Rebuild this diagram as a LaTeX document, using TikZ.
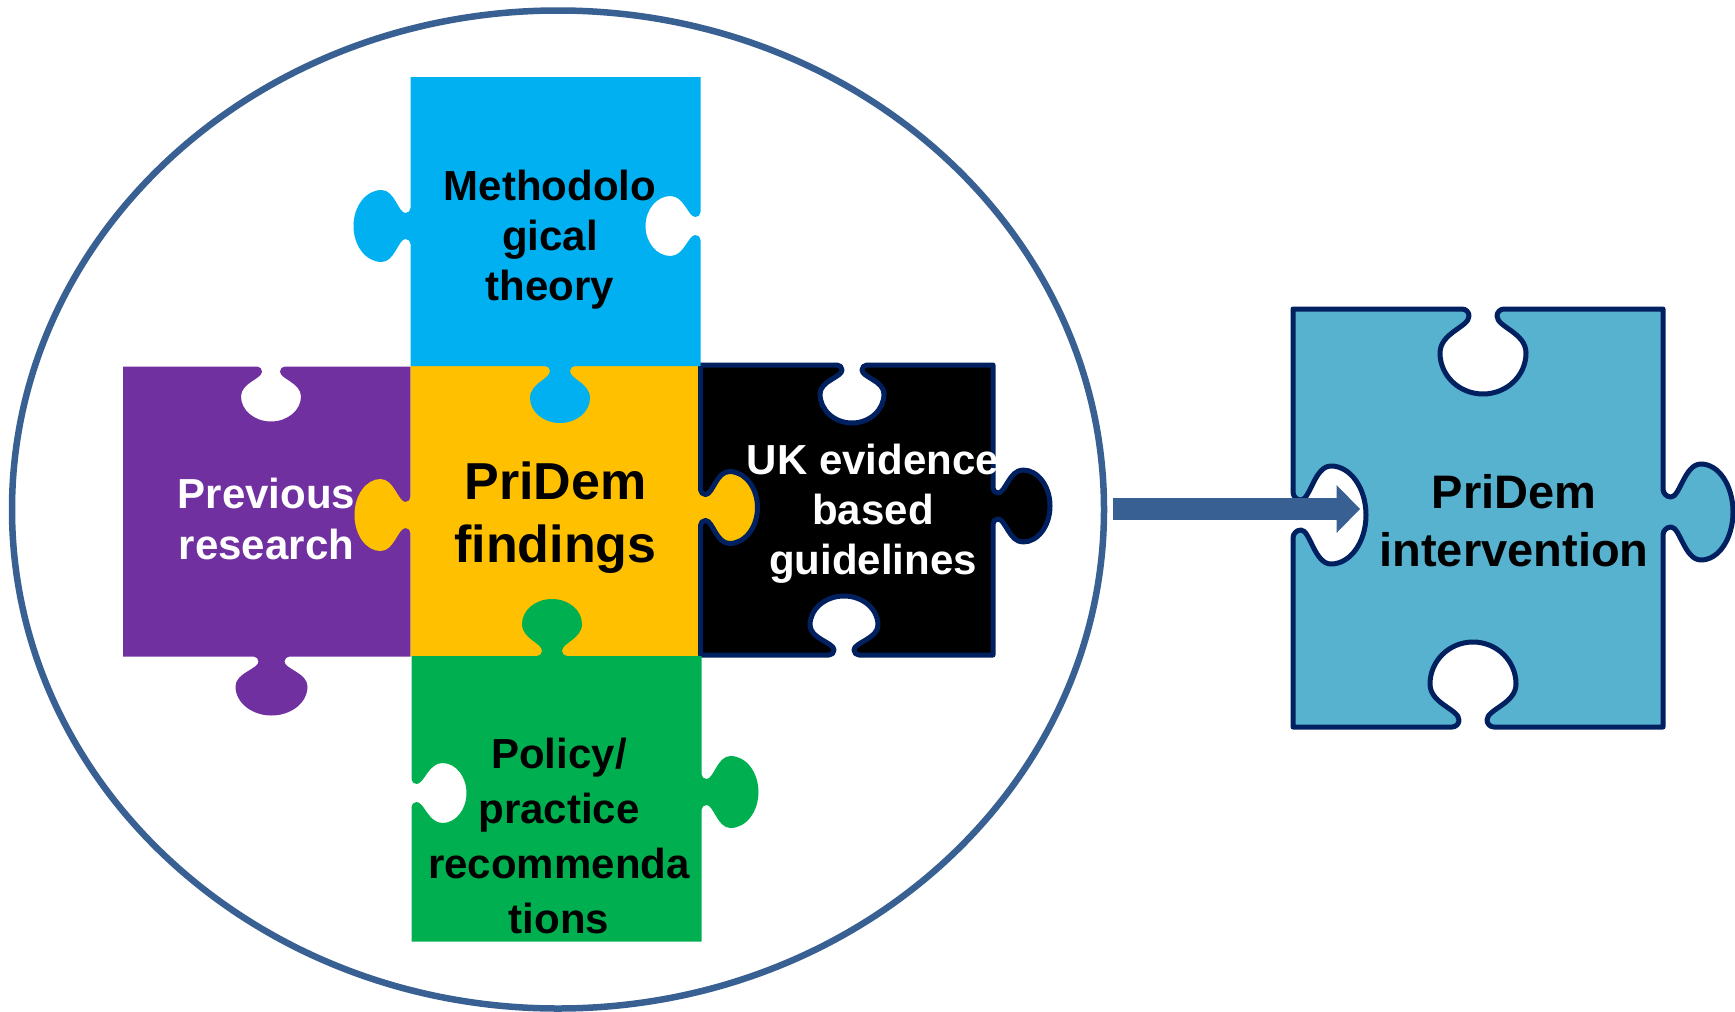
\documentclass[tikz,border=0pt]{standalone}
\usepackage{fontspec}
\setmainfont{Liberation Sans}
\usetikzlibrary{calc,shapes.geometric}

\definecolor{pzblue}{HTML}{00B0F0}
\definecolor{pzpurple}{HTML}{7030A0}
\definecolor{pzyellow}{HTML}{FFC000}
\definecolor{pzgreen}{HTML}{00B050}
\definecolor{pznavy}{HTML}{002060}
\definecolor{pzteal}{HTML}{57B2CF}
\definecolor{ringblue}{HTML}{386093}

% One tab of a puzzle piece, drawn as part of the running path.
% #1,#2 centre of the tab on the edge, #3 edge frame (u along the edge, v to the head),
% #4 half width of the head, #5 depth of the head, #6 depth of its widest point,
% #7 half width of the neck, #8 radius of the fillet where the neck meets the edge.
\newcommand\pztab[8]{%
 {[shift={(#1,#2)},#3]
  -- ({-(#7)-(#8)},0)
  .. controls ({-(#7)-0.45*(#8)},0) and ({-(#7)},{0.45*(#8)}) .. ({-(#7)},{#8})
  .. controls ({-(#7)},{#8+0.3*(#6-#8)}) and ({-(#4)},{#6-0.55*(#6-#8)}) .. ({-(#4)},{#6})
  .. controls ({-(#4)},{#6+0.552*(#5-#6)}) and ({-0.552*(#4)},{#5}) .. (0,{#5})
  .. controls ({0.552*(#4)},{#5}) and ({#4},{#6+0.552*(#5-#6)}) .. ({#4},{#6})
  .. controls ({#4},{#6-0.55*(#6-#8)}) and ({#7},{#8+0.3*(#6-#8)}) .. ({#7},{#8})
  .. controls ({#7},{0.45*(#8)}) and ({#7+0.45*(#8)},0) .. ({#7+#8},0)
 }}

\begin{document}
\begin{tikzpicture}[x=1pt,y=-1pt,
  % edge frames: the path runs clockwise; "o" = head outside, "i" = head inside
  edgeTo/.style={x={(1pt,0pt)},y={(0pt,1pt)}},
  edgeTi/.style={x={(1pt,0pt)},y={(0pt,-1pt)}},
  edgeRo/.style={x={(0pt,-1pt)},y={(1pt,0pt)}},
  edgeRi/.style={x={(0pt,-1pt)},y={(-1pt,0pt)}},
  edgeBo/.style={x={(-1pt,0pt)},y={(0pt,-1pt)}},
  edgeBi/.style={x={(-1pt,0pt)},y={(0pt,1pt)}},
  edgeLo/.style={x={(0pt,1pt)},y={(-1pt,0pt)}},
  edgeLi/.style={x={(0pt,1pt)},y={(1pt,0pt)}},
  outlined/.style={draw=pznavy,line width=5pt,line join=round},
  % labels are placed by the baseline of their last line
  label/.style={align=center,anchor=base,inner sep=0pt,font=\bfseries},
]
\fill[white] (0,0) rectangle (1735,1012);
\useasboundingbox (0,0) rectangle (1735,1012);

% surrounding ring
\node[draw=ringblue,line width=6.5pt,ellipse,minimum width=1092pt,minimum height=998pt,inner sep=0pt] (ring) at (558,509.5) {};

% previous research
\fill[pzpurple] (123,366.5) \pztab{271}{366.5}{edgeTi}{30}{55}{30}{9}{5}
  -- (410.5,366.5) -- (410.5,656.5)
  \pztab{271.5}{656.5}{edgeBo}{36}{59}{30}{13}{5} -- (123,656.5) -- cycle;

% PriDem findings
\fill[pzyellow] (410.5,366) -- (700.5,366)
  \pztab{700.5}{507.5}{edgeRo}{36}{57}{29}{13}{5} -- (700.5,656) -- (410.5,656)
  \pztab{410.5}{515}{edgeLo}{36}{56}{30}{13}{5} -- cycle;

% UK evidence based guidelines
\filldraw[fill=black,outlined] (700.5,365) \pztab{852}{365}{edgeTi}{32}{58}{29}{10}{5}
  -- (993,365) \pztab{993}{506}{edgeRo}{36}{57}{30}{13}{5}
  -- (993,655) \pztab{844}{655}{edgeBi}{34}{59}{30}{10}{5}
  -- (700.5,655) \pztab{700.5}{507.5}{edgeLi}{36}{57}{29}{13}{5} -- cycle;

% methodological theory
\fill[pzblue] (410.5,77) -- (700.5,77)
  \pztab{700.5}{226}{edgeRi}{30}{55}{30}{9}{5} -- (700.5,366)
  \pztab{560}{366}{edgeBo}{30}{57}{32}{10}{5} -- (410.5,366)
  \pztab{410.5}{226}{edgeLo}{36}{57}{29}{13}{5} -- cycle;

% policy / practice recommendations
\fill[pzgreen] (411.5,656) \pztab{552}{656}{edgeTo}{30}{57}{32}{10}{5}
  -- (701.5,656) \pztab{701.5}{792}{edgeRo}{36}{57}{29}{13}{5}
  -- (701.5,941.5) -- (411.5,941.5)
  \pztab{411.5}{793}{edgeLi}{30}{55}{31}{9}{5} -- cycle;

% PriDem intervention
\filldraw[fill=pzteal,outlined] (1293,309) \pztab{1483}{309}{edgeTi}{43}{85}{44}{14}{7}
  -- (1663,309) \pztab{1663}{512}{edgeRo}{48}{70}{38}{15}{8}
  -- (1663,727) \pztab{1473}{727}{edgeBi}{43}{85}{43}{14}{7}
  -- (1293,727) \pztab{1293}{515}{edgeLi}{49}{73}{38}{15}{8} -- cycle;

% arrow from the ring to the intervention
\coordinate (arrowStart) at (1113,509);
\coordinate (arrowTip) at (1360,509);
\fill[ringblue] ($(arrowStart)+(0,-10.8)$) -- ($(arrowTip)+(-23.3,-10.8)$)
  -- ($(arrowTip)+(-23.3,-23.8)$) -- (arrowTip) -- ($(arrowTip)+(-23.3,23.8)$)
  -- ($(arrowTip)+(-23.3,10.8)$) -- ($(arrowStart)+(0,10.8)$) -- cycle;

% labels
\node[label,font=\bfseries\fontsize{42}{50}\selectfont] (nMeth) at (550,300) {Methodolo\\gical\\theory};
\node[label,text=white,font=\bfseries\fontsize{42}{51}\selectfont] (nPrev) at (266.5,559) {Previous\\research};
\node[label,font=\bfseries\fontsize{52}{63}\selectfont] (nFind) at (555.5,562) {PriDem\\findings};
\node[label,text=white,font=\bfseries\fontsize{42}{50}\selectfont] (nUK) at (873,574) {UK evidence\\based\\guidelines};
\node[label,font=\bfseries\fontsize{42}{55}\selectfont] (nPol) at (559,933) {Policy/\\practice\\recommenda\\tions};
\node[label,font=\bfseries\fontsize{47}{58}\selectfont] (nInt) at (1514,566) {PriDem\\intervention};
\end{tikzpicture}
\end{document}
